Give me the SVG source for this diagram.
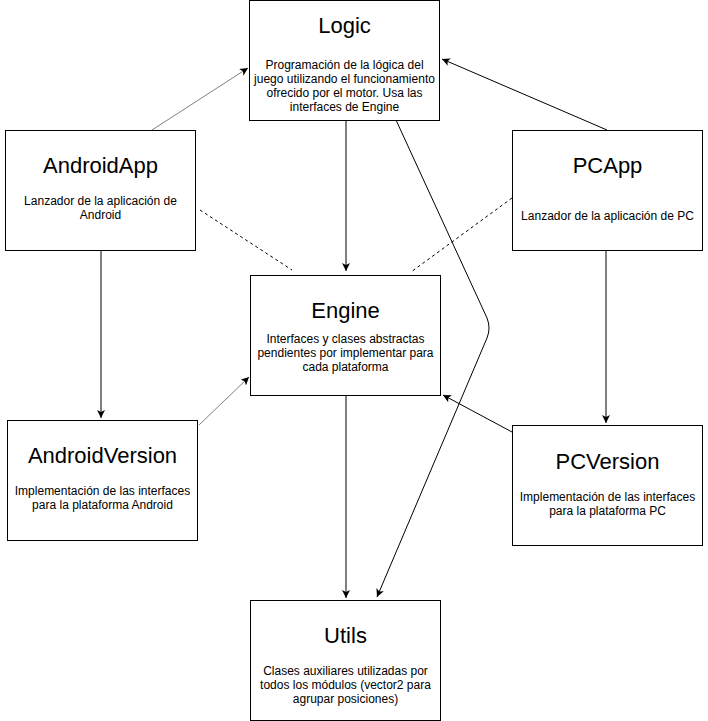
<svg xmlns="http://www.w3.org/2000/svg" width="708" height="721" viewBox="0 0 708 721">
<style>
.box{fill:#fff;stroke:#000;stroke-width:1}
.t{font-family:"Liberation Sans",Arial,sans-serif;font-size:22px;fill:#000;text-anchor:middle}
.d{font-family:"Liberation Sans",Arial,sans-serif;font-size:12px;fill:#000;text-anchor:middle}
.c{fill:none;stroke:#000;stroke-width:1}
.g{stroke:#808080}
.dash{stroke-dasharray:3,3}
</style>
<defs>
<marker id="a" markerUnits="userSpaceOnUse" markerWidth="10" markerHeight="10" refX="8" refY="4" orient="auto">
<path d="M0,0 L8,4 L0,8 L2,4 Z" fill="#000"/>
</marker>
</defs>
<rect width="708" height="721" fill="#fff"/>
<g id="connectors">
<path class="c g" d="M152,130 L248,68" marker-end="url(#a)"/>
<path class="c" d="M607,130 L442,59" marker-end="url(#a)"/>
<path class="c" d="M346,120 L346,271" marker-end="url(#a)"/>
<path class="c" d="M396,120 L487,318 Q491,328 487,338 L377,597" marker-end="url(#a)"/>
<path class="c dash" d="M200,210 L292,270"/>
<path class="c dash" d="M512,198 L411,272"/>
<path class="c" d="M101,250 L101,418" marker-end="url(#a)"/>
<path class="c" d="M606,250 L606,423" marker-end="url(#a)"/>
<path class="c g" d="M199,425 L249,377" marker-end="url(#a)"/>
<path class="c" d="M512,432 L443,395" marker-end="url(#a)"/>
<path class="c" d="M346,395 L346,598" marker-end="url(#a)"/>
</g>
<g id="logic">
<rect class="box" x="249.5" y="0.5" width="190" height="120"/>
<text class="t" x="344.5" y="33">Logic</text>
<text class="d" x="344.5" y="69">Programación de la lógica del</text>
<text class="d" x="344.5" y="83">juego utilizando el funcionamiento</text>
<text class="d" x="344.5" y="97">ofrecido por el motor. Usa las</text>
<text class="d" x="344.5" y="111">interfaces de Engine</text>
</g>
<g id="androidapp">
<rect class="box" x="5.5" y="130.5" width="190" height="120"/>
<text class="t" x="100.5" y="173">AndroidApp</text>
<text class="d" x="100.5" y="205">Lanzador de la aplicación de</text>
<text class="d" x="100.5" y="219">Android</text>
</g>
<g id="pcapp">
<rect class="box" x="512.5" y="130.5" width="190" height="120"/>
<text class="t" x="607.5" y="173">PCApp</text>
<text class="d" x="607.5" y="220">Lanzador de la aplicación de PC</text>
</g>
<g id="engine">
<rect class="box" x="250.5" y="275.5" width="190" height="120"/>
<text class="t" x="345.5" y="318">Engine</text>
<text class="d" x="345.5" y="343">Interfaces y clases abstractas</text>
<text class="d" x="345.5" y="357">pendientes por implementar para</text>
<text class="d" x="345.5" y="371">cada plataforma</text>
</g>
<g id="androidversion">
<rect class="box" x="7.5" y="420.5" width="190" height="120"/>
<text class="t" x="102.5" y="463">AndroidVersion</text>
<text class="d" x="102.5" y="495">Implementación de las interfaces</text>
<text class="d" x="102.5" y="509">para la plataforma Android</text>
</g>
<g id="pcversion">
<rect class="box" x="512.5" y="425.5" width="190" height="120"/>
<text class="t" x="607.5" y="469">PCVersion</text>
<text class="d" x="607.5" y="501">Implementación de las interfaces</text>
<text class="d" x="607.5" y="515">para la plataforma PC</text>
</g>
<g id="utils">
<rect class="box" x="250.5" y="600.5" width="190" height="120"/>
<text class="t" x="345.5" y="643">Utils</text>
<text class="d" x="345.5" y="675">Clases auxiliares utilizadas por</text>
<text class="d" x="345.5" y="689">todos los módulos (vector2 para</text>
<text class="d" x="345.5" y="703">agrupar posiciones)</text>
</g>
</svg>
